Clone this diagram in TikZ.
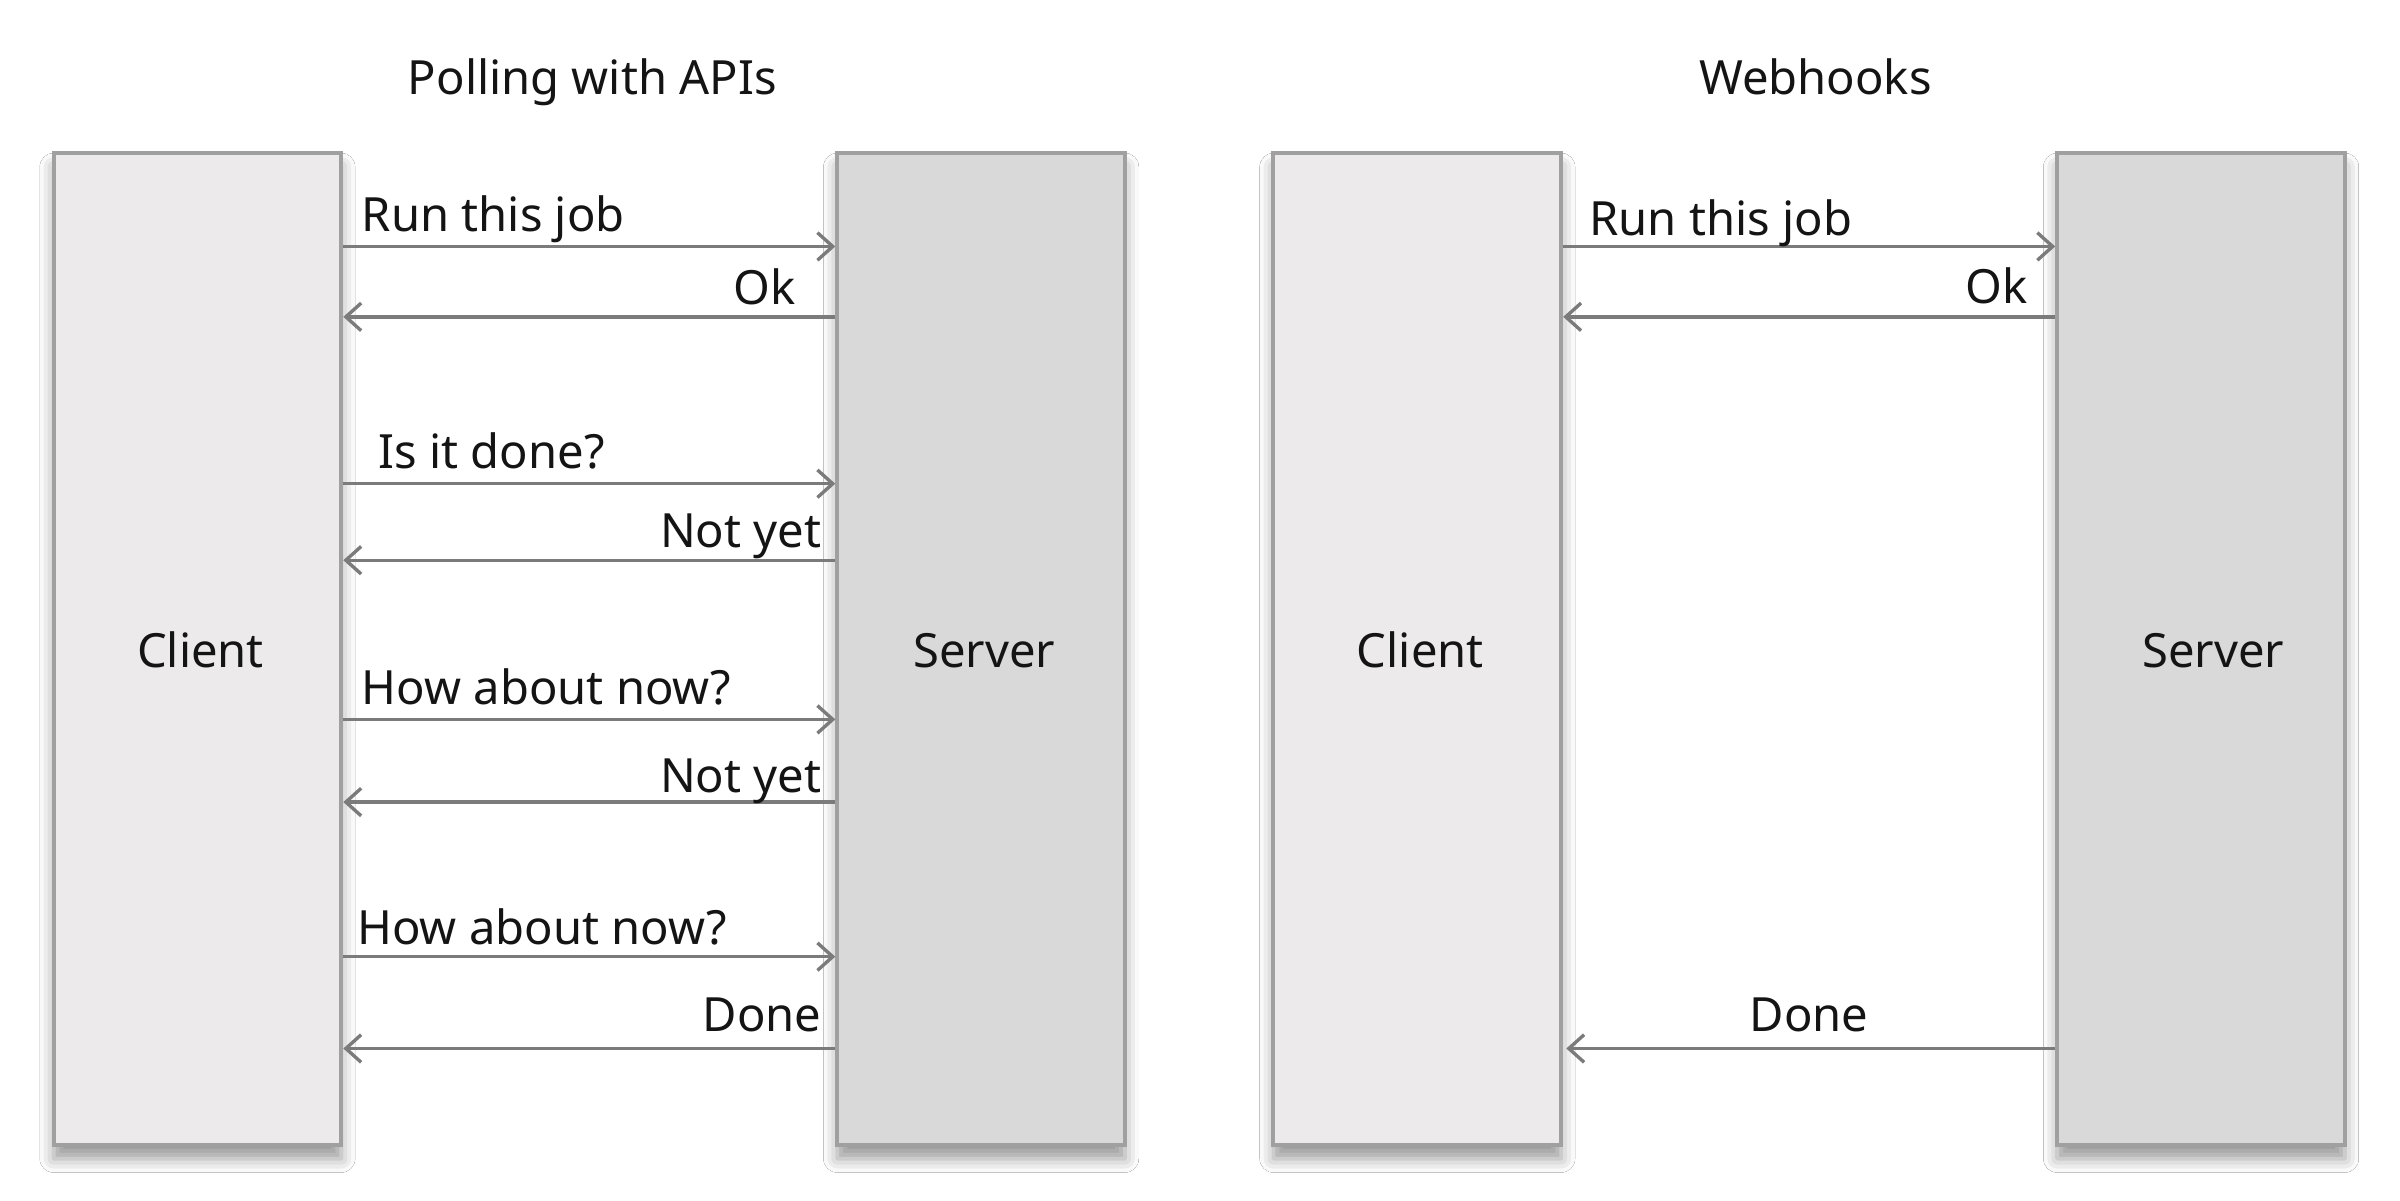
\documentclass[tikz,border=0pt]{standalone}
\usepackage{fontspec}
\setmainfont{Noto Sans}
\usetikzlibrary{arrows.meta,shadows.blur}
\definecolor{clientfill}{HTML}{ECEAEB}
\definecolor{serverfill}{HTML}{D9D9D9}
\definecolor{boxline}{HTML}{A0A0A0}
\definecolor{arrowline}{HTML}{7B7B7B}
\definecolor{txt}{HTML}{141414}
\begin{document}
\begin{tikzpicture}[x=0.5pt,y=-0.5pt,
  font=\fontsize{15.4pt}{18pt}\selectfont, text=txt,
  lane/.style={draw=boxline, line width=1.3pt, minimum width=94pt, minimum height=324pt,
    inner sep=0pt,
    blur shadow={shadow xshift=0pt, shadow yshift=-4.5pt, shadow blur radius=4.5pt, shadow opacity=40}},
  clientbox/.style={lane, fill=clientfill},
  serverbox/.style={lane, fill=serverfill},
  msg/.style={draw=arrowline, line width=1.1pt, -{Straight Barb[length=5pt,width=9pt,line width=1.1pt]}},
  lbl/.style={inner sep=0pt}
]
\useasboundingbox (0,0) rectangle (1568,784);
\fill[white] (0,0) rectangle (1568,784);

% titles
\node[lbl, anchor=base] (t1) at (387,62) {Polling with APIs};
\node[lbl, anchor=base] (t2) at (1186,62) {Webhooks};

% lanes
\node[clientbox] (lc) at (129,424) {};
\node[serverbox] (ls) at (641,424) {};
\node[clientbox] (rc) at (926,424) {};
\node[serverbox] (rs) at (1438,424) {};

\node[lbl, anchor=base] (lct) at (131,436) {Client};
\node[lbl, anchor=base] (lst) at (643,436) {Server};
\node[lbl, anchor=base] (rct) at (928,436) {Client};
\node[lbl, anchor=base] (rst) at (1446,436) {Server};

% left panel messages
\draw[msg] (lc.east |- 0,161) -- (ls.west |- 0,161);
\node[lbl, anchor=base west] (m1) at (236,151.5) {Run this job};
\draw[msg] (ls.west |- 0,207) -- (lc.east |- 0,207);
\node[lbl, anchor=base east] (m2) at (520,199) {Ok};
\draw[msg] (lc.east |- 0,316) -- (ls.west |- 0,316);
\node[lbl, anchor=base west] (m3) at (247,306) {Is it done?};
\draw[msg] (ls.west |- 0,366) -- (lc.east |- 0,366);
\node[lbl, anchor=base east] (m4) at (537,358) {Not yet};
\draw[msg] (lc.east |- 0,470) -- (ls.west |- 0,470);
\node[lbl, anchor=base west] (m5) at (236,460) {How about now?};
\draw[msg] (ls.west |- 0,524) -- (lc.east |- 0,524);
\node[lbl, anchor=base east] (m6) at (537,518) {Not yet};
\draw[msg] (lc.east |- 0,625) -- (ls.west |- 0,625);
\node[lbl, anchor=base west] (m7) at (233,617) {How about now?};
\draw[msg] (ls.west |- 0,685) -- (lc.east |- 0,685);
\node[lbl, anchor=base east] (m8) at (537,674) {Done};

% right panel messages
\draw[msg] (rc.east |- 0,161) -- (rs.west |- 0,161);
\node[lbl, anchor=base west] (n1) at (1038,154) {Run this job};
\draw[msg] (rs.west |- 0,207) -- (rc.east |- 0,207);
\node[lbl, anchor=base east] (n2) at (1325,198) {Ok};
\coordinate (rcdone) at ([xshift=1pt]rc.east |- 0,685);
\draw[msg] (rs.west |- 0,685) -- (rcdone);
\node[lbl, anchor=base] (n3) at (1182,674) {Done};
\end{tikzpicture}
\end{document}
